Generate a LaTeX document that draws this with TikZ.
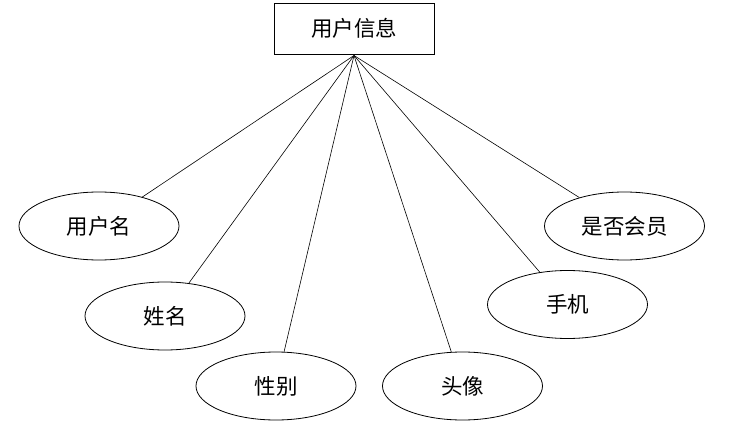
\documentclass[tikz,border=0pt]{standalone}
\usepackage{fontspec}
\newfontfamily\cjk{Noto Sans CJK SC}
\usetikzlibrary{shapes.geometric}
\begin{document}
\begin{tikzpicture}[x=1pt,y=-1pt,
  ent/.style={draw,line width=0.8pt,minimum width=160pt,minimum height=51pt,inner sep=0pt,font=\cjk\fontsize{21.5}{22}\selectfont},
  attr/.style={draw,line width=0.8pt,ellipse,minimum width=160pt,minimum height=68pt,inner sep=0pt,font=\cjk\fontsize{21.5}{22}\selectfont},
  link/.style={line width=0.6pt}]
\useasboundingbox (0,0) rectangle (737,431);
\node[ent] (e) at (354,28.5) {用户信息};
\coordinate (c) at (354,55.5);
\node[attr] (a1) at (99,226) {用户名};
\node[attr] (a2) at (165,316) {姓名};
\node[attr] (a3) at (276,386) {性别};
\node[attr] (a4) at (462.5,386) {头像};
\node[attr] (a5) at (567.5,304.5) {手机};
\node[attr] (a6) at (624.5,226) {是否会员};
\foreach \n in {a1,a2,a3,a4,a5,a6} \draw[link] (c) -- (\n);
\end{tikzpicture}
\end{document}
